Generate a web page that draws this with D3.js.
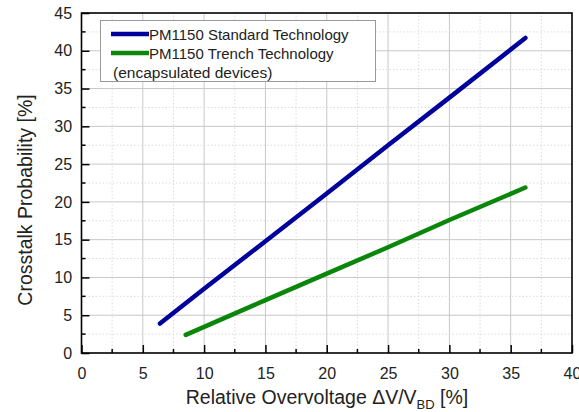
<!DOCTYPE html>
<html>
<head>
<meta charset="utf-8">
<script src="https://cdn.jsdelivr.net/npm/d3@7"></script>
<style>
  body { margin: 0; background: #fff; }
  text { font-family: "Liberation Sans", Arial, sans-serif; }
</style>
</head>
<body>
<div id="chart"></div>
<script>
// data
var std_x = [6.4, 10, 15, 20, 25, 30, 36.2];
var std_y = [3.9, 8.5, 14.8, 21.1, 27.5, 33.8, 41.7];
var trench_x = [8.5, 10, 15, 20, 25, 30, 36.2];
var trench_y = [2.4, 3.45, 7.0, 10.5, 14.0, 17.6, 21.9];
var x_ticks = [0, 5, 10, 15, 20, 25, 30, 35, 40];
var y_ticks = [0, 5, 10, 15, 20, 25, 30, 35, 40, 45];
var legend_labels = ['PM1150 Standard Technology', 'PM1150 Trench Technology'];
var legend_note = '(encapsulated devices)';

var chart_width = 579;
var chart_height = 412;
var margin = {left: 81.5, right: 7, top: 13, bottom: 59};

var svg = d3.select('#chart')
            .append('svg')
            .attr('width', chart_width)
            .attr('height', chart_height);

var x = d3.scaleLinear().domain([0, 40])
          .range([margin.left, chart_width - margin.right]);
var y = d3.scaleLinear().domain([0, 45])
          .range([chart_height - margin.bottom, margin.top]);

var x_minor = d3.range(2.5, 40, 5);
var y_minor = d3.range(2.5, 45, 5);

// grid
var grid = svg.append('g');
grid.selectAll('.vmaj').data(x_ticks.slice(1, -1)).enter().append('line')
    .attr('x1', d => x(d)).attr('x2', d => x(d))
    .attr('y1', y(0)).attr('y2', y(45))
    .attr('stroke', '#c8c8c8').attr('stroke-width', 1);
grid.selectAll('.hmaj').data(y_ticks.slice(1, -1)).enter().append('line')
    .attr('y1', d => y(d)).attr('y2', d => y(d))
    .attr('x1', x(0)).attr('x2', x(40))
    .attr('stroke', '#c8c8c8').attr('stroke-width', 1);
grid.selectAll('.vmin').data(x_minor).enter().append('line')
    .attr('x1', d => x(d)).attr('x2', d => x(d))
    .attr('y1', y(0)).attr('y2', y(45))
    .attr('stroke', '#dcdcdc').attr('stroke-width', 1)
    .attr('stroke-dasharray', '1.5,2');
grid.selectAll('.hmin').data(y_minor).enter().append('line')
    .attr('y1', d => y(d)).attr('y2', d => y(d))
    .attr('x1', x(0)).attr('x2', x(40))
    .attr('stroke', '#dcdcdc').attr('stroke-width', 1)
    .attr('stroke-dasharray', '1.5,2');

// axes (ticks pointing inward)
var x_axis = d3.axisBottom(x).tickValues(x_ticks).tickSize(-8).tickPadding(12);
var y_axis = d3.axisLeft(y).tickValues(y_ticks).tickSize(-8).tickPadding(11);

var gx = svg.append('g')
    .attr('transform', 'translate(0,' + y(0) + ')')
    .call(x_axis);
var gy = svg.append('g')
    .attr('transform', 'translate(' + x(0) + ',0)')
    .call(y_axis);

[gx, gy].forEach(function(g){
    g.select('.domain').remove();
    g.selectAll('.tick line').attr('stroke', '#000').attr('stroke-width', 1.5);
    g.selectAll('.tick text')
        .style('font-size', '16px')
        .attr('fill', '#222');
});
gx.selectAll('.tick text').attr('dy', '0.85em');
gy.selectAll('.tick text').attr('dx', '0.1em');

// minor ticks
svg.append('g').selectAll('line').data(x_minor).enter().append('line')
    .attr('x1', d => x(d)).attr('x2', d => x(d))
    .attr('y1', y(0)).attr('y2', y(0) - 4)
    .attr('stroke', '#000').attr('stroke-width', 1.5);
svg.append('g').selectAll('line').data(y_minor).enter().append('line')
    .attr('y1', d => y(d)).attr('y2', d => y(d))
    .attr('x1', x(0)).attr('x2', x(0) + 4)
    .attr('stroke', '#000').attr('stroke-width', 1.5);

// frame
svg.append('rect')
    .attr('x', x(0)).attr('y', y(45))
    .attr('width', x(40) - x(0)).attr('height', y(0) - y(45))
    .attr('fill', 'none').attr('stroke', '#000').attr('stroke-width', 1.6);

// lines
var line = d3.line().x(d => x(d[0])).y(d => y(d[1]));

svg.append('path')
    .datum(std_x.map((v, i) => [v, std_y[i]]))
    .attr('d', line)
    .attr('fill', 'none')
    .attr('stroke', '#00009c')
    .attr('stroke-width', 4.5)
    .attr('stroke-linecap', 'round');

svg.append('path')
    .datum(trench_x.map((v, i) => [v, trench_y[i]]))
    .attr('d', line)
    .attr('fill', 'none')
    .attr('stroke', '#0a870a')
    .attr('stroke-width', 4.5)
    .attr('stroke-linecap', 'round');

// legend
var legend = svg.append('g');
legend.append('rect')
    .attr('x', 100.5).attr('y', 20.5)
    .attr('width', 275).attr('height', 61)
    .attr('fill', '#fff')
    .attr('stroke', '#999').attr('stroke-width', 1);

var legend_colors = ['#00009c', '#0a870a'];
legend_labels.forEach(function(label, i){
    var ly = 34 + i * 19;
    legend.append('line')
        .attr('x1', 111).attr('x2', 149)
        .attr('y1', ly).attr('y2', ly)
        .attr('stroke', legend_colors[i]).attr('stroke-width', 4.5);
    legend.append('text')
        .attr('x', 149).attr('y', ly + 5.5)
        .style('font-size', '15px')
        .attr('fill', '#222')
        .text(label);
});
legend.append('text')
    .attr('x', 113).attr('y', 78)
    .style('font-size', '15.5px')
    .attr('fill', '#222')
    .text(legend_note);

// axis titles
svg.append('text')
    .attr('transform', 'translate(32,200) rotate(-90)')
    .attr('text-anchor', 'middle')
    .style('font-size', '19.5px')
    .attr('fill', '#222')
    .text('Crosstalk Probability [%]');

var xt = svg.append('text')
    .attr('x', 327).attr('y', 404)
    .attr('text-anchor', 'middle')
    .style('font-size', '19.5px')
    .attr('fill', '#222');
xt.append('tspan').text('Relative Overvoltage \u0394V/V');
xt.append('tspan').attr('dy', 5).style('font-size', '13px').text('BD');
xt.append('tspan').attr('dy', -5).text(' [%]');
</script>
</body>
</html>
